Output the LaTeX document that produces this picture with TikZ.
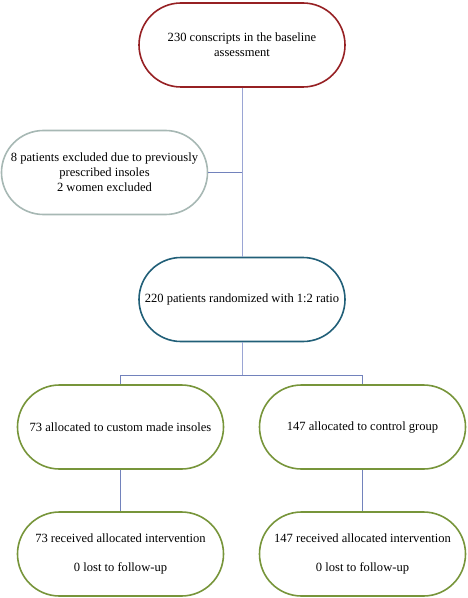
\documentclass[tikz,border=0pt]{standalone}
\usepackage{fontspec}
\setmainfont{Liberation Serif}
\usetikzlibrary{calc}
\begin{document}
\begin{tikzpicture}[x=1bp,y=-1bp,
  box/.style={draw, line width=1.6bp, rounded corners=42bp, minimum width=206bp, minimum height=84bp, align=center, inner sep=1bp, font=\fontsize{12.6}{15}\selectfont},
  conn/.style={draw=#1, line width=0.9bp},
  conn/.default={lnblue}]
\definecolor{cred}{HTML}{962023}
\definecolor{cgrey}{HTML}{A7B8B4}
\definecolor{cteal}{HTML}{215F78}
\definecolor{cgreen}{HTML}{77953A}
\definecolor{lnblue}{HTML}{7282BC}
\definecolor{lnlight}{HTML}{9AA5D4}
\useasboundingbox (0,0) rectangle (468,598);
\node[box, draw=cred] (top) at (242,45) {230 conscripts in the baseline\\assessment};
\node[box, draw=cgrey] (excl) at (104.5,172.5) {8 patients excluded due to previously\\prescribed insoles\\2 women excluded};
\node[box, draw=cteal] (rand) at (242,299.5) {220 patients randomized with 1:2 ratio};
\node[box, draw=cgreen] (a1) at (120.5,427) {73 allocated to custom made insoles};
\node[box, draw=cgreen] (a2) at (362.5,427) {147 allocated to control group};
\node[box, draw=cgreen] (r1) at (120.5,554) {73 received allocated intervention\\[14bp]0 lost to follow-up};
\node[box, draw=cgreen] (r2) at (362.5,554) {147 received allocated intervention\\[14bp]0 lost to follow-up};
\draw[conn=lnlight] (top.south) -- (rand.north);
\draw[conn] (excl.east) -- (excl.east -| top.south);
\coordinate (br) at ($(rand.south)+(0,33)$);
\draw[conn=lnlight] (rand.south) -- (br);
\draw[conn] (br) -| (a1.north);
\draw[conn] (br) -| (a2.north);
\draw[conn] (a1.south) -- (r1.north);
\draw[conn] (a2.south) -- (r2.north);
\end{tikzpicture}
\end{document}
